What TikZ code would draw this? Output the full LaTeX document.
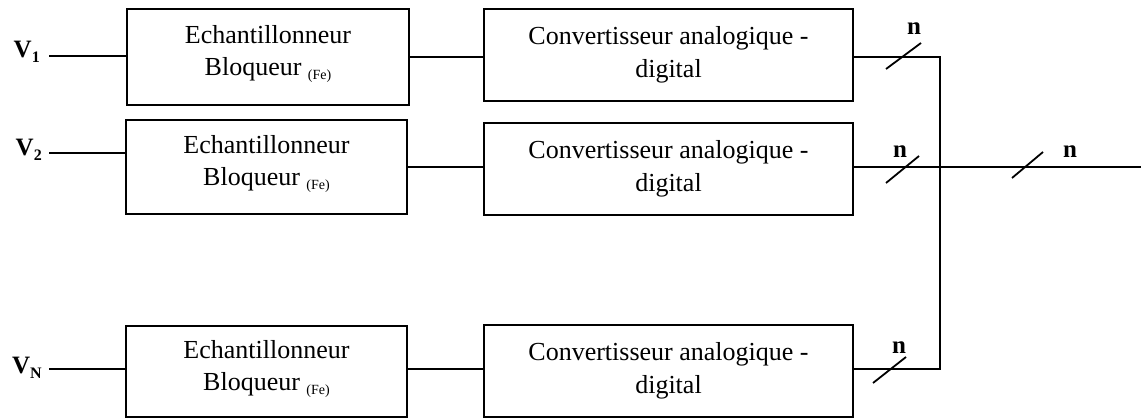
\documentclass[tikz,border=0pt]{standalone}
\usepackage{fontspec}
\setmainfont{Liberation Serif}
\usetikzlibrary{calc}
\newcommand{\fe}{\raisebox{-4pt}{\fontsize{14}{14}\selectfont (Fe)}}
\newcommand{\sbs}[1]{\raisebox{-5pt}{\fontsize{16}{16}\selectfont #1}}
\begin{document}
\begin{tikzpicture}[x=1pt,y=-1pt,
  blk/.style={draw, line width=1.8pt, inner sep=0pt, outer sep=0pt, anchor=north west},
  txt/.style={align=center, inner sep=0pt, font=\fontsize{26}{32}\selectfont},
  ctxt/.style={align=center, inner sep=0pt, font=\fontsize{26}{33}\selectfont},
  lbl/.style={inner sep=0pt, font=\fontsize{25}{25}\selectfont\bfseries, anchor=base east},
  nlbl/.style={inner sep=0pt, font=\fontsize{25}{25}\selectfont\bfseries, anchor=base},
  wire/.style={line width=1.8pt},
  tick/.style={line width=1.8pt}]
\useasboundingbox (0,0) rectangle (1141,419);

% sample-and-hold blocks
\node[blk, minimum width=282pt, minimum height=96pt] (s1) at (127,9) {};
\node[blk, minimum width=281pt, minimum height=94pt] (s2) at (126,120) {};
\node[blk, minimum width=281pt, minimum height=91pt] (s3) at (126,326) {};
% converters
\node[blk, minimum width=369pt, minimum height=92pt] (c1) at (484,9) {};
\node[blk, minimum width=369pt, minimum height=92pt] (c2) at (484,123) {};
\node[blk, minimum width=369pt, minimum height=92pt] (c3) at (484,325) {};

% texts
\node[txt] (s1t) at ($(s1.center)+(0,-3)$) {Echantillonneur\\Bloqueur \fe};
\node[txt] (s2t) at ($(s2.center)+(0,-3)$) {Echantillonneur\\Bloqueur \fe};
\node[txt] (s3t) at ($(s3.center)+(0,-3)$) {Echantillonneur\\Bloqueur \fe};
\node[ctxt] (c1t) at ($(c1.center)+(0,0)$) {Convertisseur analogique -\\digital};
\node[ctxt] (c2t) at ($(c2.center)+(0,0)$) {Convertisseur analogique -\\digital};
\node[ctxt] (c3t) at ($(c3.center)+(0,0)$) {Convertisseur analogique -\\digital};

% input labels
\node[lbl] (v1) at (40,58) {V\sbs{1}};
\node[lbl] (v2) at (42,156) {V\sbs{2}};
\node[lbl] (vn) at (42,374) {V\sbs{N}};
\coordinate (i1) at (49,56);
\coordinate (i2) at (49,153);
\coordinate (i3) at (49,369);
\draw[wire] (i1) -- (i1 -| s1.west);
\draw[wire] (i2) -- (i2 -| s2.west);
\draw[wire] (i3) -- (i3 -| s3.west);

% S/H to converter
\coordinate (m1) at (450,57);
\coordinate (m2) at (450,167);
\coordinate (m3) at (450,369);
\draw[wire] (m1 -| s1.east) -- (m1 -| c1.west);
\draw[wire] (m2 -| s2.east) -- (m2 -| c2.west);
\draw[wire] (m3 -| s3.east) -- (m3 -| c3.west);

% outputs
\coordinate (j1) at (940,57);
\coordinate (j3) at (940,369);
\coordinate (out) at (1141,167);
\draw[wire] (j1 -| c1.east) -- (j1) -- (j3) -- (j3 -| c3.east);
\draw[wire] (out -| c2.east) -- (out);

% bus ticks
\draw[tick] (886,69) -- (921,43);
\draw[tick] (886,183) -- (919,156);
\draw[tick] (1012,178) -- (1043,152);
\draw[tick] (873,383) -- (906,357);
\node[nlbl] (n1) at (914,35) {n};
\node[nlbl] (n2) at (900,158) {n};
\node[nlbl] (n3) at (1070,158) {n};
\node[nlbl] (n4) at (899,354) {n};
\end{tikzpicture}
\end{document}
